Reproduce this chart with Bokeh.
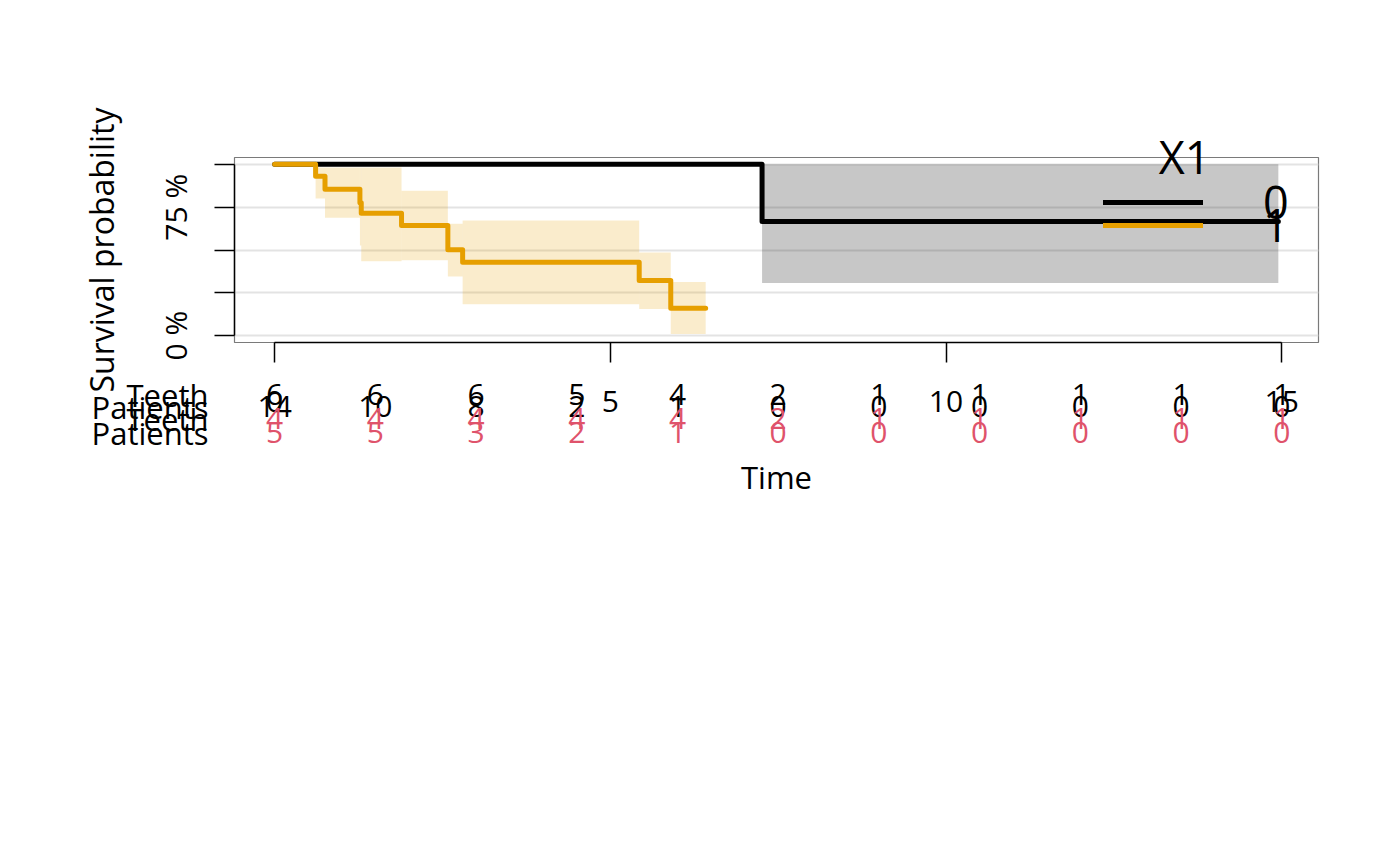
from bokeh.plotting import figure
from bokeh.layouts import column
from bokeh.models import (ColumnDataSource, Legend, LegendItem, FixedTicker, Range1d)
from bokeh.core.properties import value
from bokeh.embed import file_html
from bokeh.resources import INLINE

# ---------------- data ----------------
group_labels = ["0", "1"]
legend_title = "X1"

# group "0" (black)
t0 = [0.0, 7.26]
s0 = [1.0, 0.667]
u0 = [1.0, 1.0]
l0 = [1.0, 0.308]
end0 = 14.95

# group "1" (orange)
t1 = [0.0, 0.61, 0.75, 1.27, 1.29, 1.89, 2.58, 2.80, 5.43, 5.90]
s1 = [1.0, 0.930, 0.855, 0.776, 0.714, 0.643, 0.502, 0.429, 0.322, 0.160]
u1 = [1.0, 0.981, 0.981, 0.981, 0.981, 0.846, 0.653, 0.672, 0.485, 0.313]
l1 = [1.0, 0.801, 0.689, 0.527, 0.434, 0.440, 0.346, 0.183, 0.156, 0.010]
end1 = 6.42

risk_times = [0, 1.5, 3, 4.5, 6, 7.5, 9, 10.5, 12, 13.5, 15]
teeth0 = [6, 6, 6, 5, 4, 2, 1, 1, 1, 1, 1]
patients0 = [14, 10, 8, 2, 1, 0, 0, 0, 0, 0, 0]
teeth1 = [4, 4, 4, 4, 4, 2, 1, 1, 1, 1, 1]
patients1 = [5, 5, 3, 2, 1, 0, 0, 0, 0, 0, 0]
row_labels = ["Teeth", "Patients", "Teeth", "Patients"]

x_ticks = [0, 5, 10, 15]
y_ticks = [0, 0.25, 0.5, 0.75, 1]
y_tick_labels = ["0 %", " ", " ", "75 %", " "]

# ---------------- style / layout ----------------
FONT = "Open Sans"
FS = "30px"
BLACK = "#000000"
ORANGE = "#E69F00"
RED = "#DF536B"

W, H = 1384, 850
FL, FR, FT, FB = 234, 1318, 157, 342          # plot box in page pixels
xmin, xmax = 0.0, end0
xpad = (xmax - xmin) * 0.04
X0, X1 = xmin - xpad, xmax + xpad
Y0, Y1 = -0.04, 1.04
ppu = (FR - FL) / (X1 - X0)                      # pixels per time unit

def px_to_t(px):
    return X0 + (px - FL) / ppu

p = figure(width=W, height=H, output_backend="svg", toolbar_location=None,
           title=None,
           x_range=Range1d(X0, X1), y_range=Range1d(Y0, Y1),
           min_border_left=FL, min_border_right=W - FR,
           min_border_top=FT, min_border_bottom=H - FB)
p.frame_align = False
p.background_fill_color = "white"
p.border_fill_color = "white"
p.outline_line_color = "#7a7a7a"
p.outline_line_width = 1.2

p.xgrid.visible = False
p.ygrid.ticker = FixedTicker(ticks=y_ticks)
p.ygrid.grid_line_color = "#e3e3e3"
p.ygrid.grid_line_width = 2

for ax in (p.xaxis[0], p.yaxis[0]):
    ax.axis_line_color = BLACK
    ax.axis_line_width = 1.5
    ax.major_tick_line_color = BLACK
    ax.major_tick_line_width = 1.5
    ax.major_tick_out = 20
    ax.major_tick_in = 0
    ax.minor_tick_line_color = None
    ax.major_label_text_font = FONT
    ax.major_label_text_font_size = FS
    ax.major_label_text_color = BLACK
    ax.axis_label_text_font = FONT
    ax.axis_label_text_font_style = "normal"
    ax.axis_label_text_color = BLACK

p.xaxis.ticker = FixedTicker(ticks=x_ticks)
p.xaxis.bounds = (x_ticks[0], x_ticks[-1])
p.xaxis.major_label_standoff = 28
p.xaxis.axis_label = "Time"
p.xaxis.axis_label_text_font_size = "31px"
p.xaxis.axis_label_standoff = 41

p.yaxis.ticker = FixedTicker(ticks=y_ticks)
p.yaxis.bounds = (0, 1)
p.yaxis.major_label_overrides = {k: v for k, v in zip(y_ticks, y_tick_labels)}
p.yaxis.major_label_orientation = "vertical"
p.yaxis.major_label_standoff = 18
p.yaxis.axis_label = "Survival probability"
p.yaxis.axis_label_text_font_size = "32px"
p.yaxis.axis_label_standoff = 30

def band_source(t, u, l, end):
    return ColumnDataSource(dict(left=t, right=list(t[1:]) + [end], top=u, bottom=l))

p.quad(left="left", right="right", top="top", bottom="bottom",
       source=band_source(t0, u0, l0, end0),
       fill_color=BLACK, fill_alpha=0.22, line_color=None)
p.quad(left="left", right="right", top="top", bottom="bottom",
       source=band_source(t1, u1, l1, end1),
       fill_color=ORANGE, fill_alpha=0.2, line_color=None)

r0 = p.step(x=t0 + [end0], y=s0 + [s0[-1]], mode="after",
            line_color=BLACK, line_width=5, line_cap="round", line_join="round")
r1 = p.step(x=t1 + [end1], y=s1 + [s1[-1]], mode="after",
            line_color=ORANGE, line_width=5, line_cap="round", line_join="round")

# legend: one Legend per entry so that rows can sit closer than the text height
ITEM_H = 62
for lab, r, row_center in zip(group_labels, [r0, r1], [201, 224]):
    lg = Legend(items=[LegendItem(label=lab, renderers=[r])],
                location=(1103 - FL, FB - (row_center + ITEM_H / 2)),
                glyph_width=100, glyph_height=20, label_standoff=60,
                label_text_font=FONT, label_text_font_size="45px",
                label_text_color=BLACK, label_text_baseline="middle",
                padding=0, margin=0, spacing=0,
                border_line_color=None, background_fill_alpha=0)
    p.add_layout(lg)

# ---------------- overlay figure for texts outside the plot box ----------------
q = figure(width=W, height=H, output_backend="svg", toolbar_location=None,
           title=None,
           x_range=Range1d(px_to_t(0), px_to_t(W)), y_range=Range1d(H, 0),
           x_axis_type=None, y_axis_type=None,
           min_border=0, min_border_left=0, min_border_right=0,
           min_border_top=0, min_border_bottom=0)
q.frame_align = False
q.background_fill_alpha = 0
q.border_fill_alpha = 0
q.outline_line_color = None
q.margin = (-H, 0, 0, 0)

risk_src = ColumnDataSource(dict(
    x=risk_times,
    teeth0=[str(v) for v in teeth0],
    patients0=[str(v) for v in patients0],
    teeth1=[str(v) for v in teeth1],
    patients1=[str(v) for v in patients1],
))
row_baselines = [394, 406, 418, 432]
for col, yb, colr in zip(["teeth0", "patients0", "teeth1", "patients1"], row_baselines,
                         [BLACK, BLACK, RED, RED]):
    q.text(x="x", y=yb, text=col, source=risk_src,
           text_font=value(FONT), text_font_size=FS, text_color=colr,
           text_align="center", text_baseline="alphabetic")

lab_src = ColumnDataSource(dict(x=[px_to_t(208)] * 4, y=row_baselines, text=row_labels))
q.text(x="x", y="y", text="text", source=lab_src,
       text_font=value(FONT), text_font_size="31px", text_color=BLACK,
       text_align="right", text_baseline="alphabetic")

q.text(x=[px_to_t(1184)], y=[156], text=[legend_title],
       text_font=value(FONT), text_font_size="45px", text_color=BLACK,
       text_align="center", text_baseline="alphabetic")

layout = column(p, q)
open("out.html", "w").write(file_html(layout, INLINE))
